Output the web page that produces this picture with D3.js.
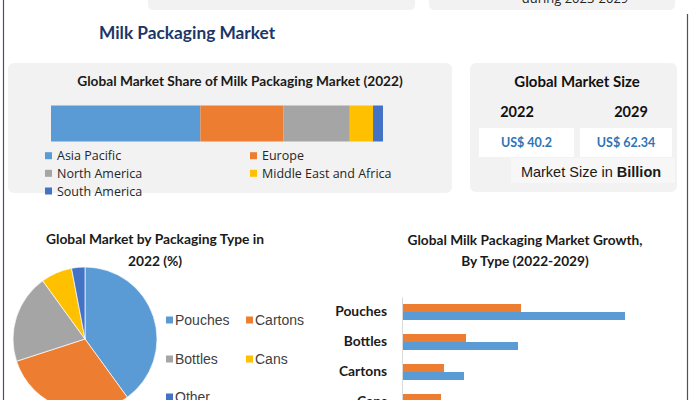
<!DOCTYPE html>
<html><head><meta charset="utf-8">
<script src="https://cdn.jsdelivr.net/npm/d3@7"></script>
<style>
html,body{margin:0;padding:0;background:#fff;}
svg{display:block;}
</style></head>
<body>
<svg id="c" width="692" height="400"></svg>
<script>
// ---- data ----
const regions = ["Asia Pacific","Europe","North America","Middle East and Africa","South America"];
const regionShare = [45, 25, 20, 7, 3];
const regionColors = ["#5b9bd5","#ed7d31","#a5a5a5","#ffc000","#4472c4"];

const sizeYears = ["2022","2029"];
const sizeValues = ["US$ 40.2","US$ 62.34"];

const packTypes = ["Pouches","Cartons","Bottles","Cans","Other"];
const packShare = [40, 30, 20, 7, 3];
const packColors = ["#5b9bd5","#ed7d31","#a5a5a5","#ffc000","#4472c4"];

const growthTypes = ["Pouches","Bottles","Cartons","Cans"];
const growthSeries = ["2022","2029"];
const growth2022 = [11.9, 6.4, 4.2, 3.9];
const growth2029 = [22.3, 11.6, 6.2, 5.0];
const growthColors = ["#ed7d31","#5b9bd5"];

const svg = d3.select("#c");
const F = "Lato, 'Open Sans', sans-serif";

// frame
svg.append("line").attr("x1",3.5).attr("x2",3.5).attr("y1",0).attr("y2",400).attr("stroke","#44546a").attr("stroke-width",1.2);
svg.append("line").attr("x1",687.5).attr("x2",687.5).attr("y1",14).attr("y2",400).attr("stroke","#44546a").attr("stroke-width",1.2);

// top partial boxes
svg.append("rect").attr("x",148).attr("y",-10).attr("width",267).attr("height",20).attr("rx",5).attr("fill","#f2f2f2");
svg.append("rect").attr("x",429).attr("y",-10).attr("width",246).attr("height",20).attr("rx",5).attr("fill","#f2f2f2");
svg.append("text").attr("x",575).attr("y",3).attr("text-anchor","middle").attr("font-family","'Open Sans', sans-serif").attr("font-size",13).attr("fill","#222").text("during 2023-2029");

// main title
svg.append("text").attr("x",99).attr("y",39).attr("font-family",F).attr("font-weight","bold").attr("font-size",17.3).attr("fill","#1b3668").text("Milk Packaging Market");

// ---- left panel: stacked share ----
svg.append("rect").attr("x",8).attr("y",63).attr("width",444).attr("height",130).attr("rx",6).attr("fill","#f2f2f2");
svg.append("text").attr("x",240).attr("y",86).attr("text-anchor","middle").attr("font-family",F).attr("font-weight","bold").attr("font-size",13.7).attr("fill","#1a1a1a").text("Global Market Share of Milk Packaging Market (2022)");

const xs = d3.scaleLinear().domain([0,100]).range([51,383]);
const cum = d3.cumsum(regionShare);
svg.append("g").selectAll("rect").data(regionShare).join("rect")
  .attr("x",(d,i)=>xs(cum[i]-d)).attr("width",d=>xs(d)-xs(0))
  .attr("y",105.5).attr("height",36)
  .attr("fill",(d,i)=>regionColors[i]);

const legPos = [[45,155.7],[250,155.7],[45,173.3],[250,173.3],[45,191]];
const lg = svg.append("g").selectAll("g").data(regions).join("g")
  .attr("transform",(d,i)=>`translate(${legPos[i][0]},${legPos[i][1]})`);
lg.append("rect").attr("x",0).attr("y",-3.5).attr("width",7).attr("height",7).attr("fill",(d,i)=>regionColors[i]);
lg.append("text").attr("x",12).attr("y",4.5).attr("font-family","'Open Sans', sans-serif").attr("font-size",12.5).attr("fill","#262626").text(d=>d);

// ---- right panel: market size ----
svg.append("rect").attr("x",470).attr("y",63).attr("width",207).attr("height",129).attr("rx",6).attr("fill","#f2f2f2");
svg.append("text").attr("x",577).attr("y",87).attr("text-anchor","middle").attr("font-family",F).attr("font-weight","bold").attr("font-size",15).attr("fill","#111").text("Global Market Size");
const yrX = [517,631];
svg.append("g").selectAll("text").data(sizeYears).join("text")
  .attr("x",(d,i)=>yrX[i]).attr("y",117).attr("text-anchor","middle").attr("font-family",F).attr("font-weight","bold").attr("font-size",14.5).attr("fill","#111").text(d=>d);
const boxes = [[479,95],[580,92]];
svg.append("g").selectAll("rect").data(sizeValues).join("rect")
  .attr("x",(d,i)=>boxes[i][0]).attr("width",(d,i)=>boxes[i][1]).attr("y",128).attr("height",29).attr("fill","#ffffff");
svg.append("g").selectAll("text").data(sizeValues).join("text")
  .attr("x",(d,i)=>boxes[i][0]+boxes[i][1]/2).attr("y",147).attr("text-anchor","middle").attr("font-family",F).attr("font-weight","bold").attr("font-size",12.5).attr("fill","#2e75b6").text(d=>d);
svg.append("rect").attr("x",511).attr("y",158).attr("width",164).attr("height",25).attr("fill","#f7f7f7");
const ms = svg.append("text").attr("x",591).attr("y",177).attr("text-anchor","middle").attr("font-family","'Liberation Sans', Arial, sans-serif").attr("font-size",14.5).attr("fill","#1a1a1a");
ms.append("tspan").text("Market Size in ");
ms.append("tspan").attr("font-weight","bold").text("Billion");

// ---- pie ----
const pt = svg.append("text").attr("text-anchor","middle").attr("font-family",F).attr("font-weight","bold").attr("font-size",13.8).attr("fill","#1a1a1a");
pt.append("tspan").attr("x",155).attr("y",244).text("Global Market by Packaging Type in");
pt.append("tspan").attr("x",155).attr("y",266).text("2022 (%)");

const pie = d3.pie().sort(null).value(d=>d)(packShare);
const arc = d3.arc().innerRadius(0).outerRadius(72);
svg.append("g").attr("transform","translate(85,339)").selectAll("path").data(pie).join("path")
  .attr("d",arc).attr("fill",(d,i)=>packColors[i]).attr("stroke","#ffffff").attr("stroke-width",0.7);

const pLeg = [[166,320],[246,320],[166,359],[246,359],[166,397]];
const pl = svg.append("g").selectAll("g").data(packTypes).join("g")
  .attr("transform",(d,i)=>`translate(${pLeg[i][0]},${pLeg[i][1]})`);
pl.append("rect").attr("x",0).attr("y",-3.5).attr("width",7).attr("height",7).attr("fill",(d,i)=>packColors[i]);
pl.append("text").attr("x",9).attr("y",5).attr("font-family","'Liberation Sans', Arial, sans-serif").attr("font-size",14).attr("fill","#404040").text(d=>d);

// ---- grouped horizontal bars ----
const bt = svg.append("text").attr("text-anchor","middle").attr("font-family",F).attr("font-weight","bold").attr("font-size",13.7).attr("fill","#1a1a1a");
bt.append("tspan").attr("x",525).attr("y",245).text("Global Milk Packaging Market Growth,");
bt.append("tspan").attr("x",525).attr("y",266).text("By Type (2022-2029)");

const gx = d3.scaleLinear().domain([0,25]).range([402,652]);
const gy = d3.scaleBand().domain(growthTypes).range([297,417]).paddingInner(14/30).paddingOuter(7/30);
const gy1 = d3.scaleBand().domain(growthSeries).range([0,gy.bandwidth()]);
const gdata = growthTypes.map((t,i)=>({t, vals:[growth2022[i],growth2029[i]]}));
const gg = svg.append("g").selectAll("g").data(gdata).join("g").attr("transform",d=>`translate(0,${gy(d.t)})`);
gg.selectAll("rect").data(d=>d.vals.map((v,j)=>({v,s:growthSeries[j],j}))).join("rect")
  .attr("x",gx(0)).attr("y",d=>gy1(d.s)).attr("height",gy1.bandwidth()).attr("width",d=>gx(d.v)-gx(0))
  .attr("fill",d=>growthColors[d.j]);
const yAxis = d3.axisLeft(gy).tickSize(0).tickPadding(15);
const ya = svg.append("g").attr("transform","translate(402,0)").call(yAxis);
ya.select(".domain").attr("stroke","#d9d9d9");
ya.selectAll("text").attr("font-family",F).attr("font-weight","bold").attr("font-size",13.8).attr("fill","#1a1a1a");
</script>
</body></html>
